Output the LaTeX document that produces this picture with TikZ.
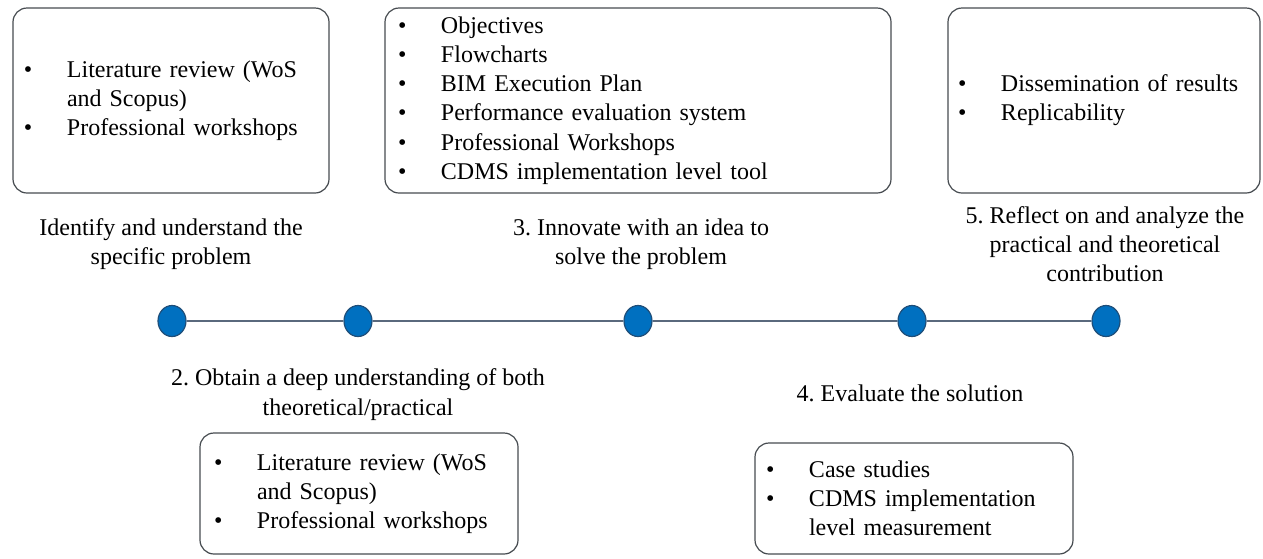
\documentclass[tikz,border=0pt]{standalone}
\usepackage{fontspec}
\setmainfont{Liberation Serif}
\usetikzlibrary{shapes.geometric}
\frenchspacing

\definecolor{dotblue}{RGB}{0,112,192}
\definecolor{dotrim}{RGB}{31,78,121}
\definecolor{linegray}{RGB}{90,105,125}
\definecolor{boxgray}{RGB}{70,75,80}

\newcommand{\bitem}[1]{\makebox[21.5pt][l]{\textbullet}#1}
\newcommand{\bcont}[1]{\hspace*{21.5pt}#1}

\tikzset{
  stepdot/.style={ellipse, fill=dotblue, draw=dotrim, line width=0.6pt,
    minimum width=14pt, minimum height=15.5pt, inner sep=0pt},
  infobox/.style={draw=boxgray, line width=0.6pt, rounded corners=7pt,
    align=left, inner ysep=0pt, font=\fontsize{12}{14.6}\selectfont},
  steplabel/.style={align=center, inner sep=0pt,
    font=\fontsize{12}{14.6}\selectfont},
}

\begin{document}
\begin{tikzpicture}[x=0.5pt, y=-0.5pt]
        \useasboundingbox (0,0) rectangle (1263,558);

        % Boxes above and below the timeline:
        \node[infobox, text width=147pt, inner xsep=5.5pt, minimum height=92.5pt] (box1) at (171, 100.5)
            {\bitem{Literature review (WoS}\\ \bcont{and Scopus)}\\ \bitem{Professional workshops}};
        \node[infobox, text width=240pt, inner xsep=6.5pt, minimum height=92.5pt] (box3) at (638, 100.5)
            {\bitem{Objectives}\\ \bitem{Flowcharts}\\ \bitem{BIM Execution Plan}\\
             \bitem{Performance evaluation system}\\ \bitem{Professional Workshops}\\
             \bitem{CDMS implementation level tool}};
        \node[infobox, text width=146pt, inner xsep=5pt, minimum height=92.5pt] (box5) at (1104, 100.5)
            {\bitem{Dissemination of results}\\ \bitem{Replicability}};
        \node[infobox, text width=145pt, inner xsep=7pt, minimum height=60.5pt] (box2) at (359, 493.5)
            {\bitem{Literature review (WoS}\\ \bcont{and Scopus)}\\ \bitem{Professional workshops}};
        \node[infobox, text width=148pt, inner xsep=5.5pt, minimum height=55.5pt] (box4) at (914, 498.5)
            {\bitem{Case studies}\\ \bitem{CDMS implementation}\\ \bcont{level measurement}};

        % Step labels:
        \node[steplabel] (lab1) at (171, 244) {Identify and understand the\\specific problem};
        \node[steplabel] (lab3) at (641, 244) {3. Innovate with an idea to\\solve the problem};
        \node[steplabel] (lab5) at (1105, 244) {5. Reflect on and analyze the\\practical and theoretical\\contribution};
        \node[steplabel] (lab2) at (358, 394.5) {2. Obtain a deep understanding of both\\theoretical/practical};
        \node[steplabel] (lab4) at (910, 393) {4. Evaluate the solution};

        % Timeline:
        \node[stepdot] (d1) at (172, 321) {};
        \node[stepdot] (d2) at (358, 321) {};
        \node[stepdot] (d3) at (638, 321) {};
        \node[stepdot] (d4) at (912, 321) {};
        \node[stepdot] (d5) at (1106, 321) {};
        \draw[linegray, line width=0.8pt] (d1) -- (d2) -- (d3) -- (d4) -- (d5);
    \end{tikzpicture}
\end{document}
